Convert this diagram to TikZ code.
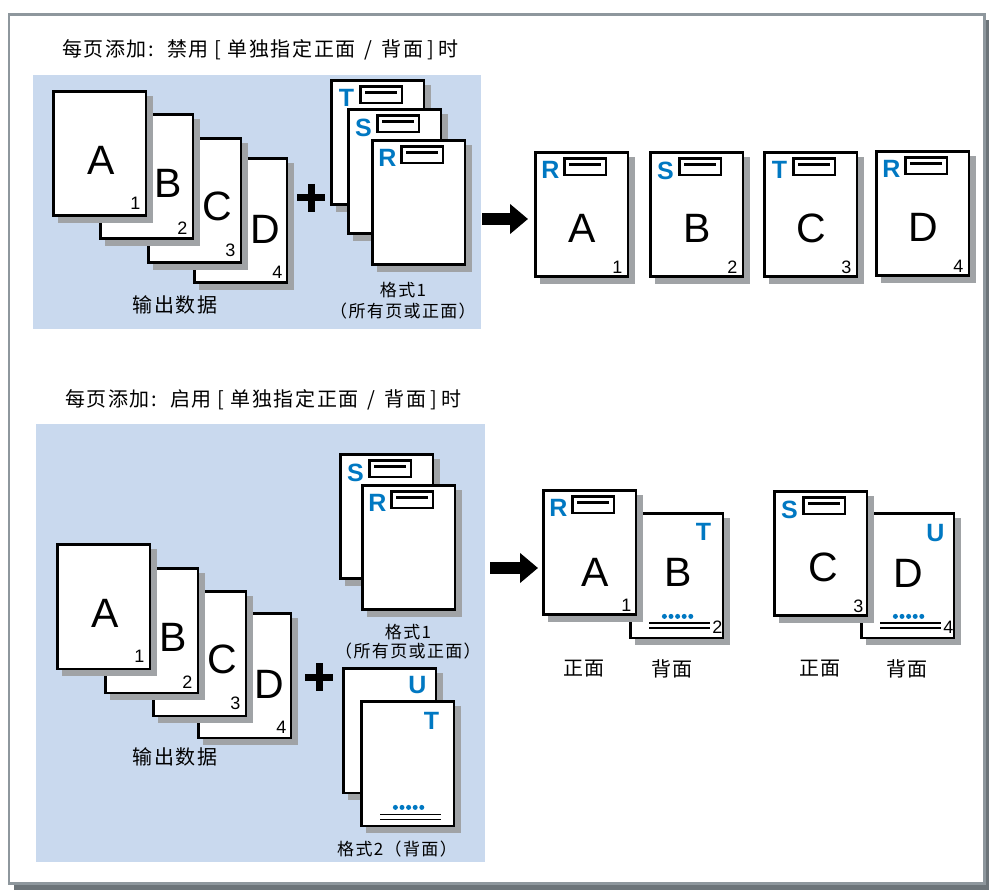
\documentclass[tikz,border=0pt]{standalone}
\usepackage{fontspec}
\setmainfont{Liberation Sans}
\newfontfamily\cjk[LetterSpace=8]{Noto Sans CJK SC}
\newfontfamily\cjksm[LetterSpace=8]{Noto Sans CJK SC}
\usetikzlibrary{arrows.meta}
\definecolor{panelc}{HTML}{C9D9EE}
\definecolor{shadowc}{HTML}{A0A3A6}
\definecolor{bluec}{HTML}{0078C2}
\definecolor{framec}{HTML}{8E979D}
\definecolor{frameshc}{HTML}{6C7479}
\tikzset{
  pagebox/.style={draw=black, fill=white, line width=2.8pt, minimum width=92.5pt, minimum height=124.5pt, anchor=north west, inner sep=0pt, outer sep=0pt},
  bigl/.style={font=\fontsize{41}{41}\selectfont, inner sep=0pt},
  numl/.style={font=\fontsize{18}{18}\selectfont, inner sep=0pt},
  bluel/.style={font=\fontsize{25}{25}\selectfont\bfseries, text=bluec, inner sep=0pt},
  hdrbox/.style={draw=black, fill=white, line width=2.6pt, minimum width=41.5pt, minimum height=16.5pt, anchor=north west, inner sep=0pt, outer sep=0pt},
  cjkl/.style={font=\cjk\fontsize{20}{20}\selectfont, inner sep=0pt},
  cjks/.style={font=\cjksm\fontsize{17}{17}\selectfont, inner sep=0pt},
  blockarrow/.style={line width=12pt, -{Triangle[length=18pt, width=29pt]}},
  plusline/.style={line width=7pt},
}
\newcommand\tlb{\hspace{6pt}[\hspace{6pt}}
\newcommand\trb{\hspace{4pt}]\hspace{5pt}}
\newcommand\tsl{\hspace{9pt}/\hspace{9pt}}
% page with shadow: name, x, y (outer top-left)
\newcommand\pageat[3]{%
  \fill[shadowc] (#2+6,#3+6) rectangle ++(95,127);
  \node[pagebox] (#1) at (#2+1.4,#3+1.4) {};
}
% header: page, letter, prefix
\newcommand\hdr[3]{%
  \node[bluel] (#3l) at ([shift={(15,18)}]#1.north west) {#2};
  \node[hdrbox] (#3b) at ([shift={(29,6)}]#1.north west) {};
  \draw[line width=3pt] ([shift={(5,6)}]#3b.north west) -- ([shift={(-5,6)}]#3b.north east);
}
% back page decoration: page, dots y
\newcommand\backdeco[2]{%
  \foreach \i in {0,...,4} \fill[bluec] ([shift={(34+6.6*\i,#2)}]#1.north west) circle (2.5);
  \draw[line width=1.8pt] ([shift={(19,#2+7)}]#1.north west) -- ++(61,0)
                          ([shift={(19,#2+12)}]#1.north west) -- ++(61,0);
}
\begin{document}
\begin{tikzpicture}[x=1pt,y=-1pt]
\useasboundingbox (0,0) rectangle (989,890);
% frame
\fill[frameshc] (14,20) rectangle (989,890);
\draw[framec, fill=white, line width=2.5pt] (9,14.5) rectangle (984.5,883.5);

% ================= Panel 1 =================
\node[cjkl, anchor=west] (t1) at (62,50) {每页添加:\hspace{5pt} 禁用\tlb 单独指定正面\tsl 背面\trb 时};
\fill[panelc] (33,75) rectangle (481,329);
% output data
\pageat{dD1}{193}{157}
\node[bigl] (dD1l) at ([shift={(71,71)}]dD1.north west) {D};
\node[numl] (dD1n) at ([shift={(83,114)}]dD1.north west) {4};
\pageat{dC1}{147}{137}
\node[bigl] (dC1l) at ([shift={(69,68)}]dC1.north west) {C};
\node[numl] (dC1n) at ([shift={(82,112)}]dC1.north west) {3};
\pageat{dB1}{99}{113}
\node[bigl] (dB1l) at ([shift={(68,69)}]dB1.north west) {B};
\node[numl] (dB1n) at ([shift={(82,114)}]dB1.north west) {2};
\pageat{dA1}{52}{90}
\node[bigl] (dA1l) at ([shift={(48,69)}]dA1.north west) {A};
\node[numl] (dA1n) at ([shift={(82,112)}]dA1.north west) {1};
\node[cjkl] (out1) at (175,305) {输出数据};
% plus
\coordinate (plus1) at (311,198);
\draw[plusline] (plus1) +(-14,0) -- +(14,0) (plus1) +(0,-14) -- +(0,14);
% format 1
\pageat{fT1}{330}{79}
\hdr{fT1}{T}{fT1h}
\pageat{fS1}{347}{108}
\hdr{fS1}{S}{fS1h}
\pageat{fR1}{371}{139}
\hdr{fR1}{R}{fR1h}
\node[cjks] (fmt1a) at (403,290) {格式1};
\node[cjks] (fmt1b) at (403,311) {（所有页或正面）};
% arrow
\coordinate (ar1s) at (482,219);
\coordinate (ar1e) at (528,219);
\draw[blockarrow] (ar1s) -- (ar1e);
% results
\pageat{r1}{534}{151}
\hdr{r1}{R}{r1h}
\node[bigl] (r1l) at ([shift={(47,76)}]r1.north west) {A};
\node[numl] (r1n) at ([shift={(82,115)}]r1.north west) {1};
\pageat{r2}{649}{151}
\hdr{r2}{S}{r2h}
\node[bigl] (r2l) at ([shift={(47,76)}]r2.north west) {B};
\node[numl] (r2n) at ([shift={(82,115)}]r2.north west) {2};
\pageat{r3}{763}{151}
\hdr{r3}{T}{r3h}
\node[bigl] (r3l) at ([shift={(47,76)}]r3.north west) {C};
\node[numl] (r3n) at ([shift={(82,115)}]r3.north west) {3};
\pageat{r4}{875}{150}
\hdr{r4}{R}{r4h}
\node[bigl] (r4l) at ([shift={(47,76)}]r4.north west) {D};
\node[numl] (r4n) at ([shift={(82,115)}]r4.north west) {4};

% ================= Panel 2 =================
\node[cjkl, anchor=west] (t2) at (65,400) {每页添加:\hspace{5pt} 启用\tlb 单独指定正面\tsl 背面\trb 时};
\fill[panelc] (36,424) rectangle (485,862);
\pageat{dD2}{197}{612}
\node[bigl] (dD2l) at ([shift={(71,71)}]dD2.north west) {D};
\node[numl] (dD2n) at ([shift={(83,114)}]dD2.north west) {4};
\pageat{dC2}{152}{590}
\node[bigl] (dC2l) at ([shift={(69,68)}]dC2.north west) {C};
\node[numl] (dC2n) at ([shift={(82,112)}]dC2.north west) {3};
\pageat{dB2}{104}{567}
\node[bigl] (dB2l) at ([shift={(68,69)}]dB2.north west) {B};
\node[numl] (dB2n) at ([shift={(82,114)}]dB2.north west) {2};
\pageat{dA2}{56}{543}
\node[bigl] (dA2l) at ([shift={(48,69)}]dA2.north west) {A};
\node[numl] (dA2n) at ([shift={(82,112)}]dA2.north west) {1};
\node[cjkl] (out2) at (175,757) {输出数据};
\coordinate (plus2) at (319,677);
\draw[plusline] (plus2) +(-14,0) -- +(14,0) (plus2) +(0,-14) -- +(0,14);
% format 1
\pageat{fS2}{339}{453}
\hdr{fS2}{S}{fS2h}
\pageat{fR2}{361}{484}
\hdr{fR2}{R}{fR2h}
\node[cjks] (fmt2a) at (408,632) {格式1};
\node[cjks] (fmt2b) at (408,651) {（所有页或正面）};
% format 2
\pageat{fU2}{342}{667}
\node[bluel] (fU2l) at ([shift={(74,17)}]fU2.north west) {U};
\pageat{fT2}{360}{700}
\node[bluel] (fT2l) at ([shift={(70,19)}]fT2.north west) {T};
\backdeco{fT2}{106}
\node[cjks] (fmt3) at (397,849) {格式2（背面）};
% arrow
\coordinate (ar2s) at (490,568);
\coordinate (ar2e) at (538,568);
\draw[blockarrow] (ar2s) -- (ar2e);
% results
\pageat{s2}{629}{512}
\node[bluel] (s2t) at ([shift={(73,19)}]s2.north west) {T};
\node[bigl] (s2l) at ([shift={(48,59)}]s2.north west) {B};
\backdeco{s2}{103}
\node[numl] (s2n) at ([shift={(87,114)}]s2.north west) {2};
\pageat{s1}{542}{489}
\hdr{s1}{R}{s1h}
\node[bigl] (s1l) at ([shift={(52,82)}]s1.north west) {A};
\node[numl] (s1n) at ([shift={(83,115)}]s1.north west) {1};
\pageat{s4}{860}{512}
\node[bluel] (s4t) at ([shift={(74,20)}]s4.north west) {U};
\node[bigl] (s4l) at ([shift={(47,60)}]s4.north west) {D};
\backdeco{s4}{103}
\node[numl] (s4n) at ([shift={(87,114)}]s4.north west) {4};
\pageat{s3}{773}{490}
\hdr{s3}{S}{s3h}
\node[bigl] (s3l) at ([shift={(49,76)}]s3.north west) {C};
\node[numl] (s3n) at ([shift={(84,115)}]s3.north west) {3};
\node[cjkl] (lf1) at (584,669) {正面};
\node[cjkl] (lb1) at (672,669) {背面};
\node[cjkl] (lf2) at (820,669) {正面};
\node[cjkl] (lb2) at (907,669) {背面};
\end{tikzpicture}
\end{document}
